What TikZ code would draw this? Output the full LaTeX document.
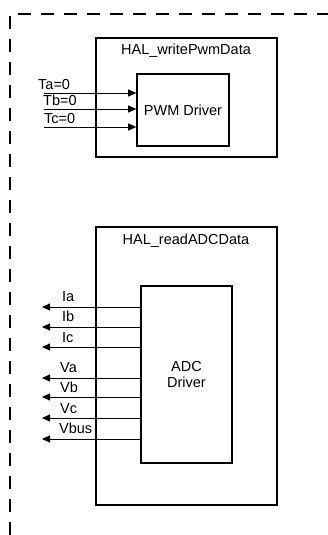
\documentclass[tikz,border=0pt]{standalone}
\usepackage{fontspec}
\setmainfont{Liberation Sans}
\usetikzlibrary{arrows.meta}
\begin{document}
\begin{tikzpicture}[x=1pt,y=-1pt,
  box/.style={draw,line width=1.6pt,minimum width=#1,inner sep=0pt},
  sig/.style={line width=0.9pt,-{Triangle[length=8pt,width=7pt]}},
  lbl/.style={font=\fontsize{14.5}{16}\selectfont,inner sep=0pt,anchor=base west},
  ttl/.style={font=\fontsize{14.5}{16}\selectfont,inner sep=0pt,anchor=base}]
\useasboundingbox (0,0) rectangle (328,535);
% dashed boundary
\coordinate (dtr) at (330,14);
\coordinate (dtl) at (10,14);
\coordinate (dbl) at (10,537);
\draw[line width=1.8pt,dash pattern=on 13pt off 10pt] (dtr) -- (dtl) -- (dbl);
% PWM section
\node[box=181pt,minimum height=119pt] (pwmouter) at (186.5,97.5) {};
\node[ttl] (pwmtitle) at (186,55) {HAL\_writePwmData};
\node[box=92pt,minimum height=72pt,font=\fontsize{14.5}{16}\selectfont] (pwm) at (183,110) {PWM Driver};
\coordinate (ta) at (44,93);
\coordinate (tb) at (44,109);
\coordinate (tc) at (44,127);
\draw[sig] (ta) -- (pwm.west |- ta);
\draw[sig] (tb) -- (pwm.west |- tb);
\draw[sig] (tc) -- (pwm.west |- tc);
\node[lbl] (tal) at (38,89) {Ta=0};
\node[lbl] (tbl) at (43,105) {Tb=0};
\node[lbl] (tcl) at (44,123) {Tc=0};
% ADC section
\node[box=181pt,minimum height=278pt] (adcouter) at (186.5,366) {};
\node[ttl] (adctitle) at (186,244) {HAL\_readADCData};
\node[box=91pt,minimum height=177pt,align=center,font=\fontsize{14.5}{16}\selectfont] (adc) at (186.5,374.5) {ADC\\Driver};
\coordinate (ia) at (42,307);
\coordinate (ib) at (42,327);
\coordinate (ic) at (42,347);
\coordinate (va) at (42,378);
\coordinate (vb) at (42,397);
\coordinate (vc) at (42,418);
\coordinate (vbus) at (42,439);
\foreach \s in {ia,ib,ic,va,vb,vc,vbus}{
  \draw[sig] (adc.west |- \s) -- (\s);
}
\node[lbl] (ial) at (62,301) {Ia};
\node[lbl] (ibl) at (62,321) {Ib};
\node[lbl] (icl) at (62,342) {Ic};
\node[lbl] (val) at (60,372) {Va};
\node[lbl] (vbl) at (60,392) {Vb};
\node[lbl] (vcl) at (60,413) {Vc};
\node[lbl] (vbusl) at (59,433) {Vbus};
\end{tikzpicture}
\end{document}
